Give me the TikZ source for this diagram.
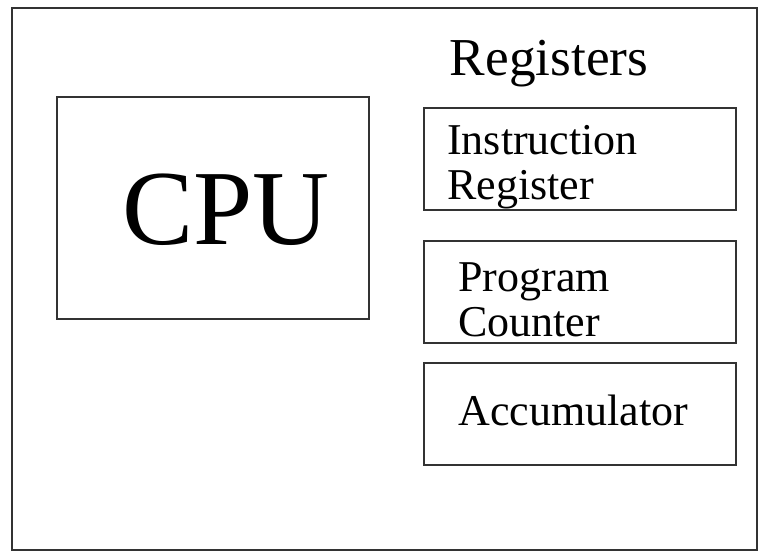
\documentclass[tikz,border=0pt]{standalone}
\usepackage{fontspec}
\setmainfont{Liberation Serif}
\usepackage{tikz}
\usetikzlibrary{positioning}

\begin{document}
\begin{tikzpicture}[x=0.75pt, y=-0.75pt,
    frame/.style={draw=black!80, line width=1.3pt},
    regbox/.style={rectangle, draw=black!80, line width=1.3pt, minimum width=234pt,
                   minimum height=76pt, inner sep=0pt},
    regtext/.style={align=left, inner sep=0pt, font=\fontsize{33}{34}\selectfont, anchor=west}
]
\useasboundingbox (0,0) rectangle (761,553);
% outer frame and processor block
\draw[frame] (12,8) rectangle (757,550);
\node[regbox, minimum width=234pt, minimum height=167pt] (cpu) at (213,208) {};
\node[font=\fontsize{80}{80}\selectfont] (cpulabel) at (226,210) {CPU};
% register stack
\node[font=\fontsize{40}{40}\selectfont] (regs) at (549,64) {Registers};
\node[regbox] (ir) at (580,159) {};
\node[regbox] (pc) at (580,292) {};
\node[regbox] (acc) at (580,414) {};
\node[regtext] (irtext) at (447,167) {Instruction\\Register};
\node[regtext] (pctext) at (458,300) {Program\\Counter};
\node[regtext] (acctext) at (458,410) {Accumulator};
\end{tikzpicture}
\end{document}
